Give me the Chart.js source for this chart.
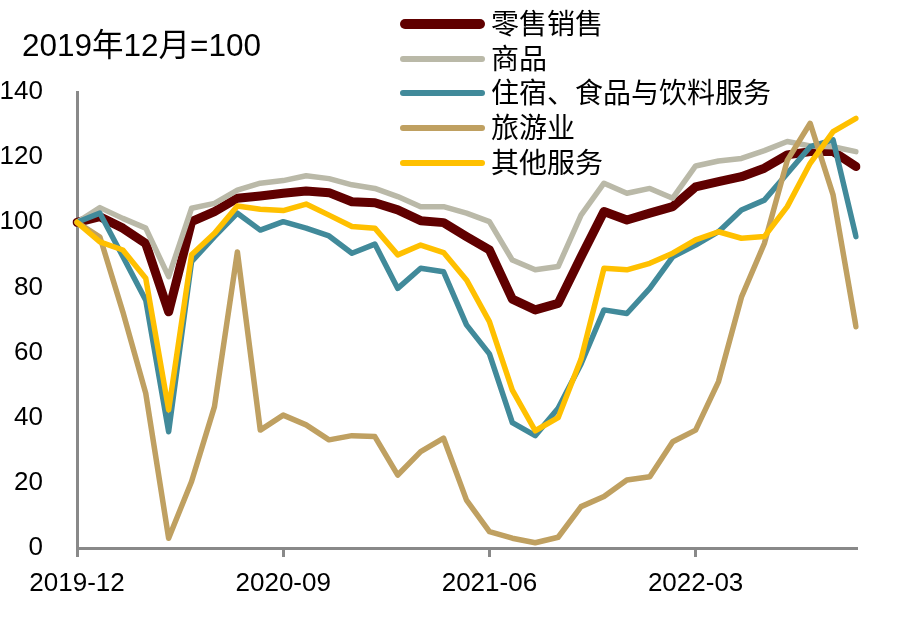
<!DOCTYPE html>
<html>
<head>
<meta charset="utf-8">
<script src="https://cdn.jsdelivr.net/npm/chart.js@4"></script>
<style>
    body { margin: 0; background: #fff; }
    #wrap { position: relative; width: 903px; height: 618px; }
    #title {
        position: absolute; left: 22px; top: 30px;
        font: 31.5px/31.5px 'Liberation Sans', Arial, 'Noto Sans CJK SC', sans-serif;
        color: #000; white-space: nowrap;
    }
    .legend-row { position: absolute; left: 400px; height: 28px; width: 440px; }
    .legend-line { position: absolute; left: 0; width: 85px; border-radius: 5px; }
    .legend-text {
        position: absolute; left: 91px; top: 0;
        font: 28px/28px 'Liberation Sans', Arial, 'Noto Sans CJK SC', sans-serif;
        color: #000; white-space: nowrap;
    }
</style>
</head>
<body>
<div id="wrap">
    <canvas id="chart" width="903" height="618"></canvas>
    <div id="title">2019年12月=100</div>
    <div id="legend"></div>
</div>
<script>
    const months = [
        '2019-12', '2020-01', '2020-02', '2020-03', '2020-04', '2020-05', '2020-06', '2020-07', '2020-08',
        '2020-09', '2020-10', '2020-11', '2020-12', '2021-01', '2021-02', '2021-03', '2021-04', '2021-05',
        '2021-06', '2021-07', '2021-08', '2021-09', '2021-10', '2021-11', '2021-12', '2022-01', '2022-02',
        '2022-03', '2022-04', '2022-05', '2022-06', '2022-07', '2022-08', '2022-09', '2022-10'
    ];

    const retailSales = [100, 101.7, 98.2, 93.5, 72.5, 100.2, 103.3, 107.4, 108.1, 108.9, 109.6, 109.1, 106.3, 106, 103.8,
        100.5, 99.9, 95.6, 91.5, 76.4, 73.1, 75.1, 89.4, 103.3, 100.7, 102.8, 104.8, 110.9, 112.5, 114, 116.6,
        120.7, 121.7, 121.7, 117.1];
    const goods = [100, 104.5, 101.2, 98.2, 83.3, 104.3, 105.8, 109.9, 112, 112.8, 114.3, 113.4, 111.5, 110.4, 107.9,
        104.8, 104.8, 102.8, 100.2, 88.4, 85.4, 86.4, 102.2, 112, 108.9, 110.4, 107.4, 117.3, 118.8, 119.6, 122,
        124.8, 123.4, 123.2, 121.7];
    const foodServices = [100, 102.8, 89.5, 76.1, 35.7, 87.9, 95.6, 102.8, 97.6, 100.2, 98.2, 95.8, 90.5, 93.3, 79.7,
        85.9, 84.8, 68.5, 59.6, 38.5, 34.5, 42.9, 56.5, 73.1, 72, 79.7, 89.4, 93, 97.1, 103.8, 106.8,
        115, 123.2, 125.3, 95.6];
    const tourism = [100, 95.5, 72.5, 47.5, 3, 20.4, 43.4, 90.9, 36.2, 40.8, 37.8, 33.2, 34.5, 34.2, 22.4,
        29.6, 33.7, 14.7, 5, 3, 1.6, 3.3, 12.7, 15.8, 20.9, 21.9, 32.6, 36.2, 51.1, 77, 93.5,
        119, 130.4, 108.4, 67.9];
    const otherServices = [100, 94, 91.5, 82.8, 42.4, 90, 96.6, 105, 104, 103.6, 105.6, 102.2, 98.7, 98.2, 90,
        93, 90.7, 82.3, 69.5, 48.5, 36, 40, 58, 85.9, 85.4, 87.4, 90.5, 94.6, 97.1, 95.1, 95.6,
        104.8, 118.1, 127.8, 131.9];

    const seriesNames = ['零售销售', '商品', '住宿、食品与饮料服务', '旅游业', '其他服务'];
    const seriesColors = ['#600000', '#BAB9A8', '#418A9A', '#BFA061', '#FFC000'];
    const seriesWidths = [10, 6, 6, 6, 6];
    const yTicks = [0, 20, 40, 60, 80, 100, 120, 140];

    const fontFamily = "'Liberation Sans', Arial, 'Noto Sans CJK SC', sans-serif";
    const axisGrey = '#898989';

    // legend is plain html so the text stays real text
    const legendCenters = [24, 59, 93, 128, 163];
    const legendEl = document.getElementById('legend');
    seriesNames.forEach((name, i) => {
        const row = document.createElement('div');
        row.className = 'legend-row';
        row.style.top = (legendCenters[i] - 13) + 'px';
        const line = document.createElement('div');
        line.className = 'legend-line';
        line.style.background = seriesColors[i];
        line.style.height = seriesWidths[i] + 'px';
        line.style.top = (13 - seriesWidths[i] / 2) + 'px';
        const text = document.createElement('div');
        text.className = 'legend-text';
        text.textContent = name;
        row.appendChild(line);
        row.appendChild(text);
        legendEl.appendChild(row);
    });

    const allSeries = [retailSales, goods, foodServices, tourism, otherServices];
    const datasets = allSeries.map((values, i) => ({
        label: seriesNames[i],
        data: values,
        borderColor: seriesColors[i],
        borderWidth: i === 0 ? 9 : 5.5,
        borderJoinStyle: 'round',
        borderCapStyle: 'round',
        pointRadius: 0,
        tension: 0,
        fill: false,
        order: 5 - i
    }));

    new Chart(document.getElementById('chart').getContext('2d'), {
        type: 'line',
        data: { labels: months, datasets: datasets },
        options: {
            responsive: false,
            animation: false,
            layout: { padding: { top: 92, right: 47, left: 0, bottom: 0 } },
            plugins: {
                legend: { display: false },
                tooltip: { enabled: false },
                title: { display: false }
            },
            scales: {
                x: {
                    offset: false,
                    afterFit: scale => { scale.height = 70; },
                    grid: {
                        display: true,
                        drawOnChartArea: false,
                        drawTicks: true,
                        tickLength: 9,
                        color: axisGrey,
                        lineWidth: 3
                    },
                    border: { display: true, color: axisGrey, width: 3 },
                    ticks: {
                        autoSkip: false,
                        maxRotation: 0,
                        padding: 11,
                        color: '#000',
                        font: { family: fontFamily, size: 26 },
                        callback: function(value, index) {
                            return index % 9 === 0 ? months[index] : null;
                        }
                    }
                },
                y: {
                    min: 0,
                    max: 140,
                    afterFit: scale => { scale.width = 77; },
                    afterBuildTicks: scale => { scale.ticks = yTicks.map(v => ({ value: v })); },
                    grid: { display: false, drawTicks: false },
                    border: { display: true, color: axisGrey, width: 3 },
                    ticks: {
                        padding: 34,
                        color: '#000',
                        font: { family: fontFamily, size: 26 }
                    }
                }
            }
        }
    });
</script>
</body>
</html>
